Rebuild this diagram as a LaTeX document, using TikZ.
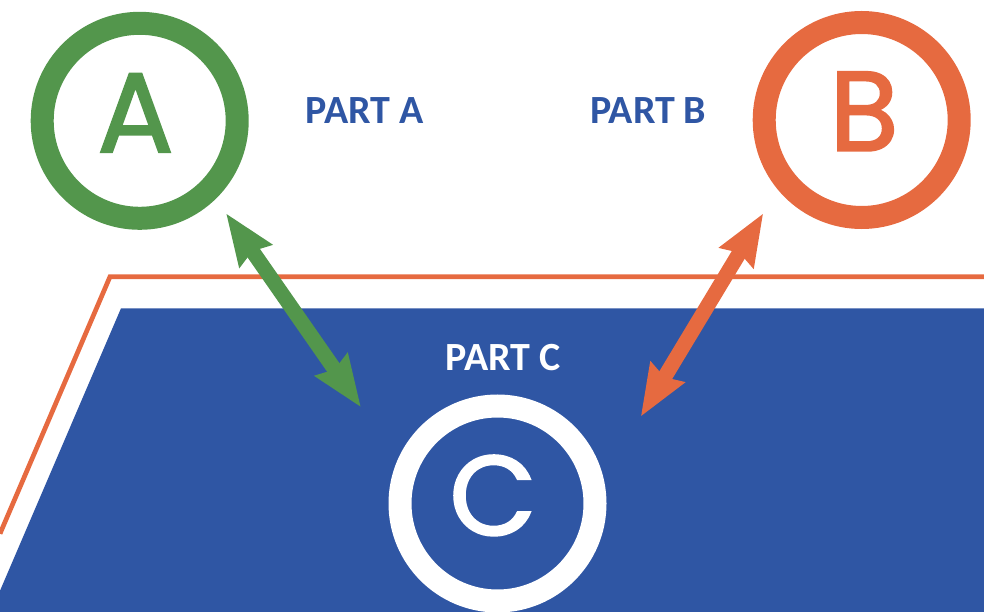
\documentclass[tikz,border=0pt]{standalone}
\usepackage{fontspec}
\setmainfont{Carlito}
\newfontfamily\letterfont{Poppins}[FakeBold=1.8]
\usetikzlibrary{arrows.meta}
\definecolor{cgreen}{HTML}{53964C}
\definecolor{corange}{HTML}{E66A40}
\definecolor{cblue}{HTML}{2F56A4}
\tikzset{
  ring/.style={circle, draw=#1, line width=23pt, minimum size=195pt, inner sep=0pt},
  bigletter/.style={text=#1, font=\letterfont\fontsize{113}{113}\selectfont, anchor=base, inner sep=0pt},
  partlabel/.style={text=#1, font=\bfseries\fontsize{40}{40}\selectfont, anchor=base, inner sep=0pt},
  dblarrow/.style={draw=#1, line width=15pt, {Stealth[length=51pt, width=38pt, inset=5pt]}-{Stealth[length=51pt, width=38pt, inset=5pt]}}
}
\begin{document}
\begin{tikzpicture}[x=1pt, y=-1pt]
\useasboundingbox (0,0) rectangle (984,612);
% blue field
\fill[cblue] (0,612) -- (0,590.7) -- (121,308.3) -- (984,308.3) -- (984,612) -- cycle;
% orange outline
\coordinate (o1) at (0,533.7);
\coordinate (o2) at (110,276.7);
\coordinate (o3) at (984,276.7);
\draw[corange, line width=4.7pt, line join=miter] (o1) -- (o2) -- (o3);
% circles
\node[ring=cgreen] (A) at (139.7,120.8) {};
\node[ring=corange] (B) at (861.7,120) {};
\node[ring=white] (C) at (497.5,503.5) {};
\node[bigletter=cgreen] (Al) at (135.5,152) {A};
\node[bigletter=corange] (Bl) at (864,150.7) {B};
\node[bigletter=white] (Cl) at (493,535) {C};
% labels
\node[partlabel=cblue] (pa) at (364.5,124) {PART A};
\node[partlabel=cblue] (pb) at (648.3,124) {PART B};
\node[partlabel=white] (pc) at (503.3,370.3) {PART C};
% arrows
\coordinate (ga) at (226,213.3);
\coordinate (gc) at (361,407.3);
\coordinate (ob) at (763.3,213.3);
\coordinate (oc) at (640.7,416.7);
\draw[dblarrow=cgreen] (ga) -- (gc);
\draw[dblarrow=corange] (ob) -- (oc);
\end{tikzpicture}
\end{document}
